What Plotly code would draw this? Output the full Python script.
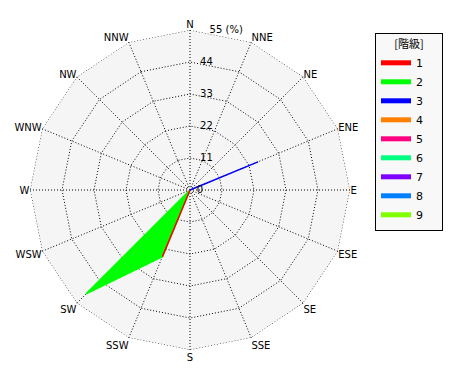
import plotly.graph_objects as go

directions = ["N", "NNE", "NE", "ENE", "E", "ESE", "SE", "SSE",
              "S", "SSW", "SW", "WSW", "W", "WNW", "NW", "NNW"]

class_names = ["1", "2", "3", "4", "5", "6", "7", "8", "9"]
class_colors = ["#ff0000", "#00ff00", "#0000ff", "#ff8000", "#ff0080",
                "#00ff80", "#8000ff", "#0080ff", "#80ff00"]

# percentage per direction for each class (only non-zero ones drawn)
r_class1 = [0, 0, 0, 0, 0, 0, 0, 0, 0, 24.8, 0, 0, 0, 0, 0, 0]
r_class2 = [0, 0, 0, 0, 0, 0, 0, 0, 0, 24.8, 50.5, 0, 0, 0, 0, 0]
r_class3 = [0, 0, 0, 25.3, 0, 0, 0, 0, 0, 0, 0, 0, 0, 0, 0, 0]

radial_ticks = [0, 11, 22, 33, 44, 55]
radial_labels = ["0", "11", "22", "33", "44", "55 (%)"]

NB = "\u00a0"
# pad labels on the left so that they sit just right of the north axis
pad = {"0": 2, "11": 3, "22": 3, "33": 3, "44": 3, "55 (%)": 6}
radial_ticktext = [NB * pad[t] + t for t in radial_labels]

fig = go.Figure()

# outer dotted frame at the largest ring
fig.add_trace(go.Scatterpolar(
    r=[radial_ticks[-1]] * (len(directions) + 1),
    theta=directions + [directions[0]], mode="lines",
    line=dict(color="black", width=1, dash="1px,2px"),
    showlegend=False, hoverinfo="skip"))

# draw order: class 2 (filled), class 1, class 3
for name, r, color in [("2", r_class2, class_colors[1]),
                       ("1", r_class1, class_colors[0]),
                       ("3", r_class3, class_colors[2])]:
    fig.add_trace(go.Scatterpolar(
        r=r + [r[0]], theta=directions + [directions[0]],
        mode="lines", fill="toself", fillcolor=color,
        line=dict(color=color, width=1.5), showlegend=False,
        hoverinfo="skip"))

# legend entries (trailing spaces widen the box like the original)
for name, color in zip(class_names, class_colors):
    fig.add_trace(go.Scatterpolar(
        r=[None], theta=[directions[0]], mode="lines",
        line=dict(color=color, width=5), name=name + NB * 4))

fig.update_layout(
    width=470, height=380,
    margin=dict(l=0, r=0, t=0, b=0),
    paper_bgcolor="white",
    font=dict(family="DejaVu Sans", size=10, color="black"),
    showlegend=True,
    legend=dict(
        x=375 / 470, y=1 - 33 / 380, xanchor="left", yanchor="top",
        bgcolor="#f8f8f8", bordercolor="black", borderwidth=1,
        font=dict(family="DejaVu Sans", size=11),
        title=dict(text="[階級]", side="top center",
                   font=dict(family="Noto Sans CJK JP", size=11)),
        tracegroupgap=0, itemwidth=30,
    ),
    polar=dict(
        domain=dict(x=[30 / 470, 350 / 470], y=[30 / 380, 350 / 380]),
        bgcolor="#f5f5f5",
        gridshape="linear",
        angularaxis=dict(
            type="category", categoryarray=directions,
            direction="clockwise", rotation=90,
            showline=False, gridcolor="black", griddash="1px,2px", gridwidth=1,
            ticks="", tickfont=dict(size=10),
        ),
        radialaxis=dict(
            range=[0, 55], tickvals=radial_ticks, ticktext=radial_ticktext,
            angle=90, tickangle=90, showline=False, ticks="",
            gridcolor="black", griddash="1px,2px", gridwidth=1,
            tickfont=dict(size=10),
        ),
    ),
)

fig.write_html("out.html")
